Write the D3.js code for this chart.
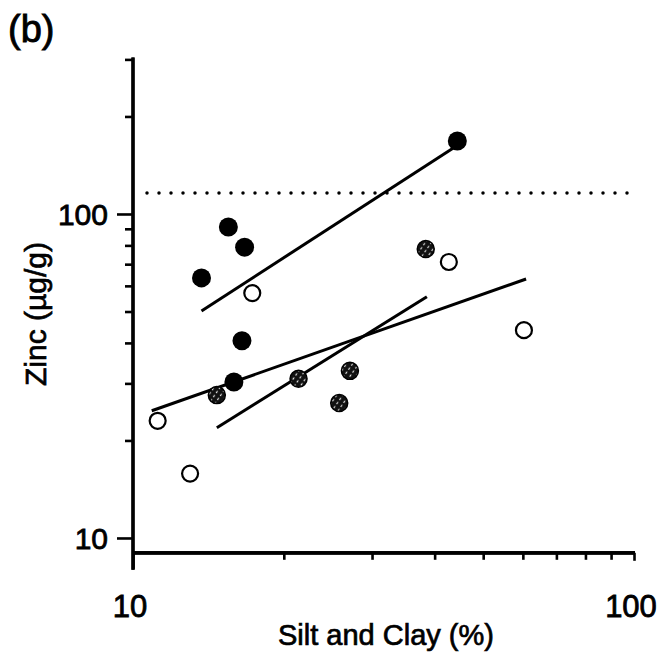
<!DOCTYPE html>
<html>
<head>
<meta charset="utf-8">
<script src="https://cdn.jsdelivr.net/npm/d3@7"></script>
<style>
  html, body { margin: 0; padding: 0; background: #fff; }
  svg { display: block; }
  text { font-family: "Liberation Sans", Arial, sans-serif; fill: #000; }
</style>
</head>
<body>
<svg id="chart" width="661" height="661"></svg>
<script>
// Silt-and-clay content (%) versus zinc concentration (µg/g), three sample groups
const filledX = [44.4, 15.5, 16.7, 13.7, 16.5, 15.9];
const filledY = [168, 91.2, 79, 63.5, 40.6, 30.3];
const openX = [17.3, 42.7, 60.3, 11.2, 13.0];
const openY = [57, 71.1, 43.8, 23, 15.8];
const hatchX = [38.4, 14.7, 21.4, 27.1, 25.8];
const hatchY = [78, 27.6, 31, 32.8, 26.1];

// Fitted regression lines: [x0, y0, x1, y1]
const filledFit = [13.7, 50.2, 43.9, 161];
const openFit = [10.9, 24.7, 60.9, 63];
const hatchFit = [14.7, 21.9, 38.6, 55.5];

// Guideline value (dotted horizontal line)
const guideline = 116;

const xTickLabels = [10, 100];
const yTickLabels = [10, 100];
const xMinorTicks = [20, 30, 40, 50, 60, 70, 80, 90];
const yMinorTicks = [20, 30, 40, 50, 60, 70, 80, 90, 200, 300];

const svg = d3.select("#chart");

const x = d3.scaleLog().domain([10, 100]).range([133, 634]);
const y = d3.scaleLog().domain([9, 300]).range([552.8, 59.4]);

// hatched marker fill
const defs = svg.append("defs");
const pat = defs.append("pattern")
  .attr("id", "hatch")
  .attr("patternUnits", "userSpaceOnUse")
  .attr("width", 5).attr("height", 5)
  .attr("patternTransform", "rotate(35)");
pat.append("rect").attr("width", 5).attr("height", 5).attr("fill", "#111");
pat.append("line").attr("x1", 2.5).attr("y1", 0.5).attr("x2", 2.5).attr("y2", 3)
  .attr("stroke", "#ddd").attr("stroke-width", 1.2);

// axes
const axisX = svg.append("g").attr("transform", `translate(0,${y(9)})`);
axisX.call(d3.axisBottom(x).tickValues(xMinorTicks).tickSize(7).tickFormat(""));
axisX.append("g").call(d3.axisBottom(x).tickValues([10]).tickSize(16).tickFormat(""));
axisX.append("g").call(d3.axisBottom(x).tickValues([100]).tickSize(8).tickFormat(""));
axisX.selectAll(".domain").attr("d", `M${x(10) - 1},0H${x(100) + 1}`);

const axisY = svg.append("g").attr("transform", `translate(${x(10)},0)`);
axisY.call(d3.axisLeft(y).tickValues(yMinorTicks).tickSize(8).tickFormat(""));
axisY.append("g").call(d3.axisLeft(y).tickValues(yTickLabels).tickSize(16).tickFormat(""));
axisY.selectAll(".domain").attr("d", `M0,${y(9) + 17}V${y(300) - 2}`);

svg.selectAll(".domain").attr("stroke", "#000").attr("stroke-width", 3.2);
svg.selectAll(".tick line").attr("stroke", "#000").attr("stroke-width", 2.6);

// tick labels
svg.append("g").selectAll("text").data(xTickLabels).join("text")
  .attr("x", d => x(d) - 3)
  .attr("y", 617)
  .attr("text-anchor", "middle")
  .attr("font-size", 31)
  .attr("stroke", "#000").attr("stroke-width", 0.8)
  .text(d => d);

svg.append("g").selectAll("text").data(yTickLabels).join("text")
  .attr("x", 108)
  .attr("y", d => y(d) + 11)
  .attr("text-anchor", "end")
  .attr("font-size", 30)
  .attr("stroke", "#000").attr("stroke-width", 0.8)
  .text(d => d);

// axis titles
svg.append("text")
  .attr("x", 386).attr("y", 645)
  .attr("text-anchor", "middle")
  .attr("font-size", 29)
  .attr("stroke", "#000").attr("stroke-width", 0.7)
  .text("Silt and Clay (%)");

svg.append("text")
  .attr("transform", "translate(46,314) rotate(-90)")
  .attr("text-anchor", "middle")
  .attr("font-size", 30)
  .attr("stroke", "#000").attr("stroke-width", 0.7)
  .text("Zinc (µg/g)");

svg.append("text")
  .attr("x", 8).attr("y", 42)
  .attr("font-size", 38)
  .attr("stroke", "#000").attr("stroke-width", 0.9)
  .text("(b)");

// guideline
svg.append("line")
  .attr("x1", x(10) + 14).attr("x2", x(100) - 6)
  .attr("y1", y(guideline)).attr("y2", y(guideline))
  .attr("stroke", "#000")
  .attr("stroke-width", 3.5)
  .attr("stroke-linecap", "round")
  .attr("stroke-dasharray", "0 12");

// regression lines
const fits = [filledFit, openFit, hatchFit];
svg.append("g").selectAll("line").data(fits).join("line")
  .attr("x1", d => x(d[0])).attr("y1", d => y(d[1]))
  .attr("x2", d => x(d[2])).attr("y2", d => y(d[3]))
  .attr("stroke", "#000")
  .attr("stroke-width", 3);

// points
const r = 9;
const toPts = (xs, ys) => xs.map((v, i) => [v, ys[i]]);

svg.append("g").selectAll("circle").data(toPts(openX, openY)).join("circle")
  .attr("cx", d => x(d[0])).attr("cy", d => y(d[1])).attr("r", r - 1)
  .attr("fill", "#fff").attr("stroke", "#000").attr("stroke-width", 2.2);

svg.append("g").selectAll("circle").data(toPts(hatchX, hatchY)).join("circle")
  .attr("cx", d => x(d[0])).attr("cy", d => y(d[1])).attr("r", r - 0.5)
  .attr("fill", "url(#hatch)").attr("stroke", "#000").attr("stroke-width", 1.5);

svg.append("g").selectAll("circle").data(toPts(filledX, filledY)).join("circle")
  .attr("cx", d => x(d[0])).attr("cy", d => y(d[1])).attr("r", r + 0.5)
  .attr("fill", "#000");
</script>
</body>
</html>
